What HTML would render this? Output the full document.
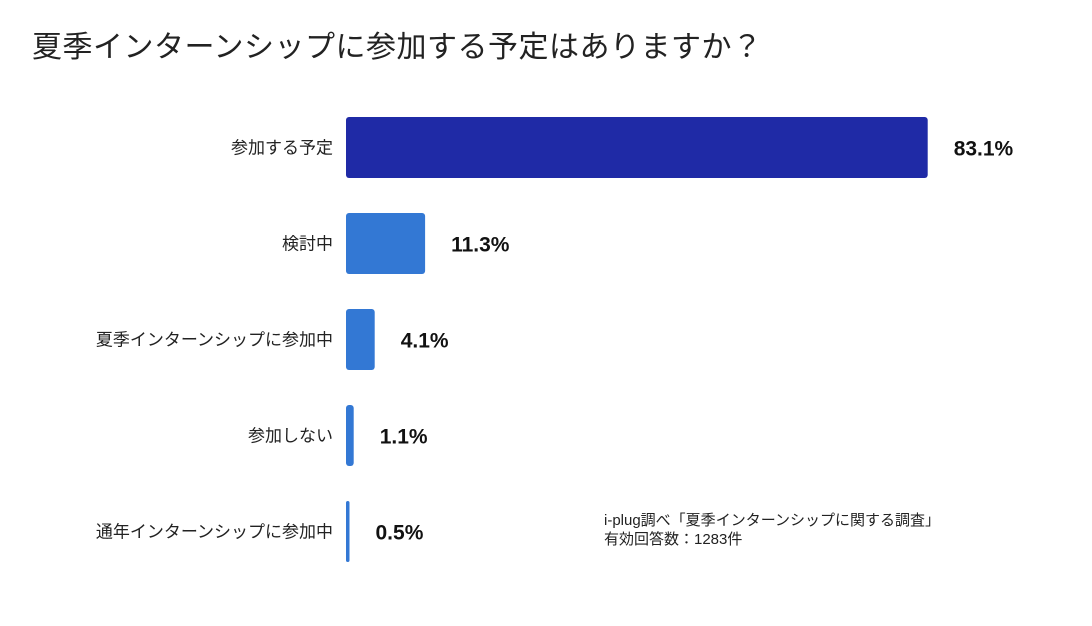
<!DOCTYPE html>
<html><head><meta charset="utf-8"><style>
body{margin:0;background:#fff;width:1092px;height:626px;overflow:hidden;font-family:"Liberation Sans","Noto Sans CJK JP",sans-serif;}
#title{position:absolute;left:32px;top:22px;font-size:30px;color:#222;white-space:nowrap;letter-spacing:0.5px}
.note{position:absolute;left:604px;font-size:15px;color:#222;white-space:nowrap}
</style></head><body>
<div id="title">夏季インターンシップに参加する予定はありますか？</div>
<svg id="chart" width="1092" height="626" style="position:absolute;left:0;top:0"></svg>
<div class="note" style="top:509px">i-plug調べ「夏季インターンシップに関する調査」</div>
<div class="note" style="top:528px">有効回答数：1283件</div>
<script>
const categories=["参加する予定","検討中","夏季インターンシップに参加中","参加しない","通年インターンシップに参加中"];
const values=[83.1,11.3,4.1,1.1,0.5];
const valueLabels=["83.1%","11.3%","4.1%","1.1%","0.5%"];
const NS="http://www.w3.org/2000/svg";
const svg=document.getElementById('chart');
const x0=346, scale=7.0, top0=117, step=96, bh=61;
function xs(v){return v*scale;}
function ys(i){return top0+i*step;}
categories.forEach((c,i)=>{
  const y=ys(i), w=Math.max(2,xs(values[i]));
  const r=document.createElementNS(NS,'rect');
  
  
  r.setAttribute('x',x0);r.setAttribute('y',y);r.setAttribute('width',w);r.setAttribute('height',bh);
  r.setAttribute('rx',Math.min(3,w/2));
  r.setAttribute('fill',i===0?'#1f2aa6':'#3378d4');
  svg.appendChild(r);
  const l=document.createElementNS(NS,'text');
  
  
  l.setAttribute('x',333);l.setAttribute('y',y+bh/2+6);l.setAttribute('text-anchor','end');
  l.setAttribute('font-size','17');l.setAttribute('fill','#222');
  l.setAttribute('font-family','"Liberation Sans","Noto Sans CJK JP",sans-serif');
  l.textContent=c;svg.appendChild(l);
  const v=document.createElementNS(NS,'text');
  
  
  v.setAttribute('x',x0+w+26);v.setAttribute('y',y+bh/2+8);
  v.setAttribute('font-size','21');v.setAttribute('font-weight','bold');v.setAttribute('fill','#111');
  v.setAttribute('font-family','"Liberation Sans",sans-serif');
  v.textContent=valueLabels[i];svg.appendChild(v);
});
</script>
</body></html>
